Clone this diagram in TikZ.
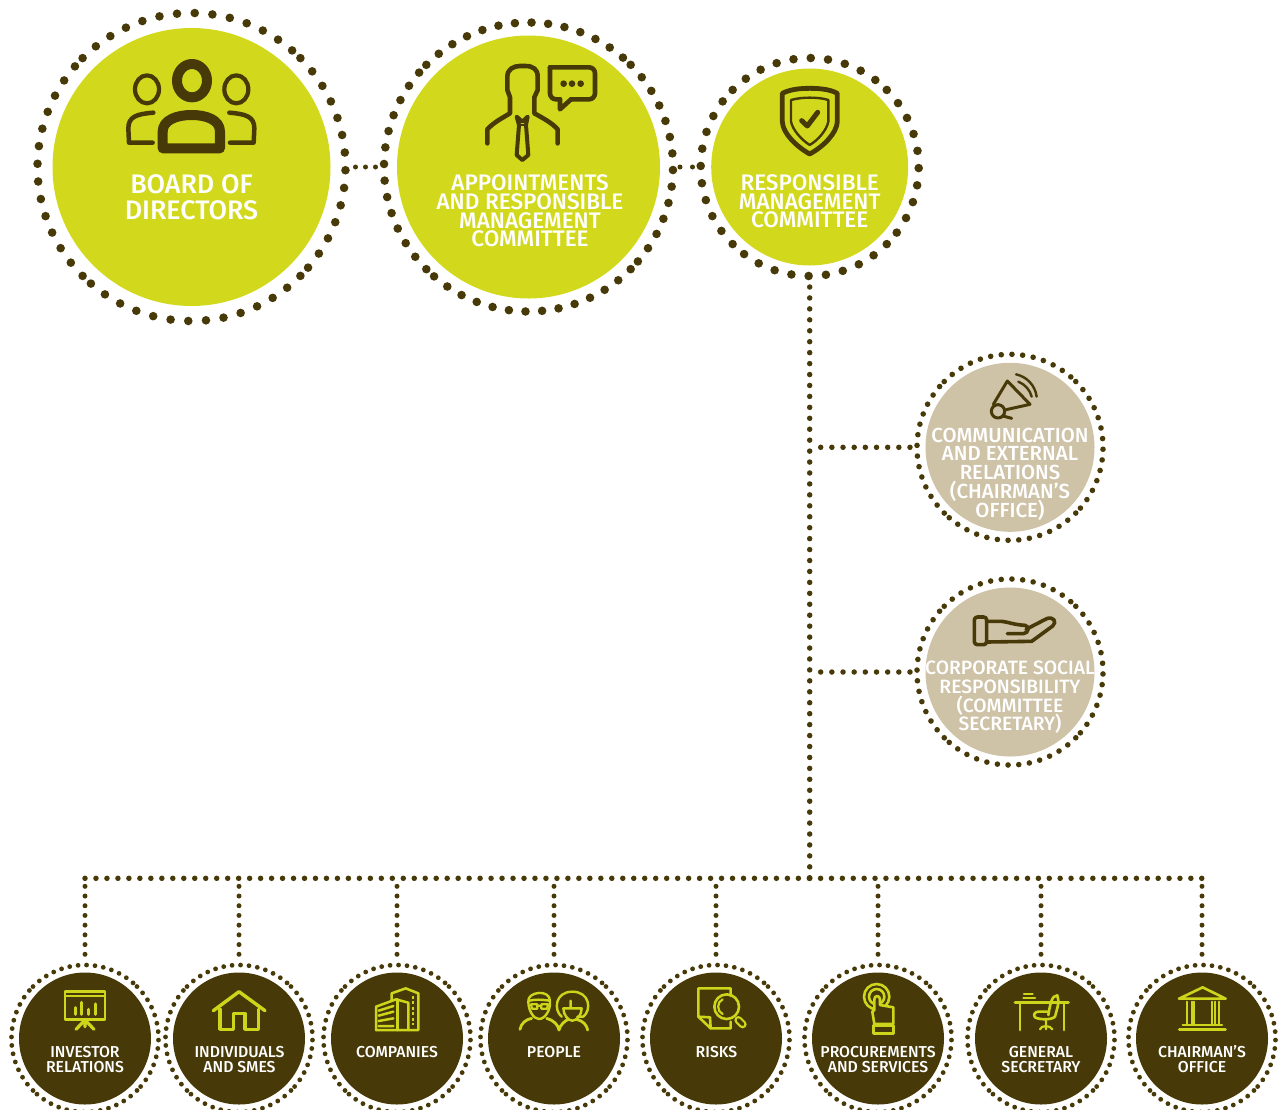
\documentclass[tikz,border=0pt]{standalone}
\usepackage{fontspec}
\setmainfont{Fira Sans Medium}
\definecolor{limeC}{HTML}{D2D91C}
\definecolor{iconC}{HTML}{CDD61B}
\definecolor{brownC}{HTML}{473A08}
\definecolor{beigeC}{HTML}{CEC2A7}
\tikzset{
  disc/.style={circle,inner sep=0pt,outer sep=0pt,fill=#1},
  bigtext/.style={text=white,align=center,inner sep=0pt},
  ringdot/.style={fill=brownC},
  conn/.style={draw=brownC,line width=#1,line cap=round},
  zoomed/.style 2 args={shift={(#1,#2)},x=0.33333pt,y=-0.33333pt},
  ink/.style={draw=brownC,line width=#1,line cap=round,line join=round},
  lim/.style={draw=iconC,line width=#1,line cap=round,line join=round}
}
\newcommand\dotring[4]{\foreach \qq in {0,1,2,3}{\foreach \ii in {0,...,13}{\fill[ringdot] ({#1+#3*cos(49.2+\qq*90+\ii*6.6)},{#2-#3*sin(49.2+\qq*90+\ii*6.6)}) circle[radius=#4];}}}
\newcommand\dotringten[4]{\foreach \qq in {0,1,2,3}{\foreach \ii in {0,...,9}{\fill[ringdot] ({#1+#3*cos(53+\qq*90+\ii*9.11)},{#2-#3*sin(53+\qq*90+\ii*9.11)}) circle[radius=#4];}}}
\newcommand\szA{\lineskiplimit=-100pt\fontsize{26.8}{26.5}\selectfont}
\newcommand\szB{\lineskiplimit=-100pt\fontsize{22.5}{18.7}\selectfont}
\newcommand\szC{\lineskiplimit=-100pt\fontsize{20.4}{18.7}\selectfont}
\newcommand\szE{\lineskiplimit=-100pt\fontsize{19.3}{18.7}\selectfont}
\newcommand\szD{\lineskiplimit=-100pt\fontsize{15.8}{15}\selectfont}
\begin{document}
\begin{tikzpicture}[x=1pt,y=-1pt]
\useasboundingbox (0,0) rectangle (1282,1109);
% discs
\node[disc=limeC,minimum size=278pt] (board) at (191.5,167) {};
\node[disc=limeC,minimum size=263pt] (appt) at (528.5,167) {};
\node[disc=limeC,minimum size=197pt] (resp) at (809.7,167) {};
\node[disc=beigeC,minimum size=169pt] (comm) at (1010,447.3) {};
\node[disc=beigeC,minimum size=169pt] (csr) at (1010,672) {};
\foreach \nm/\cx in {inv/85,ind/239,com/397,peo/554,ris/716,pro/878,gen/1041,cha/1202}{
  \node[disc=brownC,minimum size=132pt] (\nm) at (\cx,1038.5) {};
}
% rings
\dotring{191.5}{167}{154}{4.3}
\dotring{528.5}{167}{144.5}{4.3}
\dotringten{809.7}{167}{109}{4.3}
\dotring{1010}{447.3}{93}{2.8}
\dotring{1010}{672}{93}{2.8}
\foreach \cx in {85,239,397,554,716,878,1041,1202}{\dotring{\cx}{1038.5}{73.5}{2.4}}
% connector junctions
\coordinate (busM) at (809.7,878.3);
\coordinate (busL) at (85,878.3);
\coordinate (busR) at (1202,878.3);
\coordinate (tapA) at (809.7,447.3);
\coordinate (tapB) at (809.7,672);
\foreach \nm/\cx in {inv/85,ind/239,com/397,peo/554,ris/716,pro/878,gen/1041,cha/1202}{
  \coordinate (bus\nm) at (\cx,878.3);
  \draw[conn=5pt,dash pattern=on 0pt off 9.71pt,shorten <=8pt,shorten >=17pt] (bus\nm) -- (\nm);
}
\draw[conn=5pt,dash pattern=on 0pt off 10pt,shorten <=25pt,shorten >=21.5pt] (board) -- (appt);
\draw[conn=5pt,dash pattern=on 0pt off 12.5pt,shorten <=20pt,shorten >=18pt] (appt) -- (resp);
\draw[conn=5.5pt,dash pattern=on 0pt off 10.94pt,shorten <=21.5pt] (resp) -- (busM);
\draw[conn=5.5pt,dash pattern=on 0pt off 10.975pt] (busL) -- (busM);
\draw[conn=5.5pt,dash pattern=on 0pt off 10.89pt] (busM) -- (busR);
\draw[conn=5.5pt,dash pattern=on 0pt off 11.16pt,shorten <=11pt,shorten >=15pt] (tapA) -- (comm);
\draw[conn=5.5pt,dash pattern=on 0pt off 11.16pt,shorten <=11pt,shorten >=15pt] (tapB) -- (csr);
% labels
\node[bigtext,font=\szA] (boardT) at (191.5,197) {BOARD OF\\DIRECTORS};
\node[bigtext,font=\szB] (apptT) at (530,211) {APPOINTMENTS\\AND RESPONSIBLE\\MANAGEMENT\\COMMITTEE};
\node[bigtext,font=\szB] (respT) at (809.7,201.5) {RESPONSIBLE\\MANAGEMENT\\COMMITTEE};
\node[bigtext,font=\szC] (commT) at (1010,474) {COMMUNICATION\\AND EXTERNAL\\RELATIONS\\(CHAIRMAN’S\\OFFICE)};
\node[bigtext,font=\szE] (csrT) at (1010,697.5) {CORPORATE SOCIAL\\RESPONSIBILITY\\(COMMITTEE\\SECRETARY)};
\node[bigtext,font=\szD] (invT) at (85,1059.5) {INVESTOR\\RELATIONS};
\node[bigtext,font=\szD] (indT) at (239.5,1059.5) {INDIVIDUALS\\AND SMES};
\node[bigtext,font=\szD] (comT) at (397,1052) {COMPANIES};
\node[bigtext,font=\szD] (peoT) at (554,1052) {PEOPLE};
\node[bigtext,font=\szD] (risT) at (716.5,1052) {RISKS};
\node[bigtext,font=\szD] (proT) at (878,1059.5) {PROCUREMENTS\\AND SERVICES};
\node[bigtext,font=\szD] (genT) at (1041,1059.5) {GENERAL\\SECRETARY};
\node[bigtext,font=\szD] (chaT) at (1202,1059.5) {CHAIRMAN’S\\OFFICE};
% board icon
\begin{scope}[zoomed={30}{0}]
  \draw[ink=10pt] (486,242) ellipse[x radius=45,y radius=50];
  \draw[ink=4.2pt] (351,268) ellipse[x radius=36,y radius=42];
  \draw[ink=4.2pt] (619,268) ellipse[x radius=36,y radius=42];
  \draw[ink=10pt] (398,445) -- (398,395) .. controls (398,360) and (440,345) .. (485,345) .. controls (530,345) and (570,360) .. (570,395) -- (570,445) -- cycle;
  \draw[ink=4.5pt] (370,338) .. controls (320,342) and (295,350) .. (295,385) -- (297,428) -- (368,428);
  \draw[ink=4.5pt] (598,338) .. controls (648,342) and (673,350) .. (673,385) -- (671,428) -- (600,428);
\end{scope}
% appointments icon
\begin{scope}[zoomed={370}{10}]
  \draw[ink=4.6pt] (352,400) -- (352,358) .. controls (370,338) and (395,325) .. (420,310) -- (420,262) -- (412,240) -- (412,200) .. controls (412,178) and (430,168) .. (450,168) -- (466,168) .. controls (490,168) and (503,178) .. (503,200) -- (503,240) -- (493,262) -- (493,310) .. controls (520,325) and (545,338) .. (563,358) -- (563,400);
  \draw[ink=4pt] (440,320) -- (457,335) -- (473,320) -- (468,345) -- (475,435) -- (457,450) -- (440,435) -- (447,345) -- cycle;
  \draw[ink=2pt] (447,345) -- (468,345);
  \draw[ink=4.6pt,rounded corners=6pt] (540,172) -- (675,172) -- (675,268) -- (603,268);
  \draw[ink=4.6pt,rounded corners=6pt] (540,172) -- (540,268) -- (570,268);
  \draw[ink=4.6pt] (603,268) -- (570,298) -- (570,268);
  \fill[brownC] (581,221) circle[radius=10] (606,221) circle[radius=10] (632,221) circle[radius=10];
\end{scope}
% shield icon
\begin{scope}[zoomed={690}{50}]
  \draw[ink=4.8pt] (277,130) .. controls (300,118) and (330,115) .. (359,115) .. controls (390,115) and (420,118) .. (442,130) -- (442,215) .. controls (440,250) and (400,290) .. (359,312) .. controls (320,290) and (278,250) .. (277,215) -- cycle;
  \draw[ink=2.4pt] (303,150) .. controls (320,145) and (340,143) .. (359,143) .. controls (380,143) and (400,145) .. (415,150) -- (415,215) .. controls (410,240) and (385,270) .. (359,285) .. controls (335,270) and (308,240) .. (303,215) -- cycle;
  \draw[ink=5pt] (335,212) -- (352,228) -- (383,187);
\end{scope}
% megaphone icon
\begin{scope}[zoomed={910}{345}]
  \draw[ink=3pt] (250,178) -- (292,108) -- (360,178) -- (288,194);
  \draw[ink=3pt] (264,199) circle[radius=20];
  \draw[ink=3pt] (279,213) -- (305,220);
  \draw[ink=2.4pt] (325,110) .. controls (345,118) and (360,135) .. (365,155);
  \draw[ink=2.4pt] (318,88) .. controls (350,95) and (375,120) .. (380,155);
\end{scope}
% hand icon
\begin{scope}[zoomed={910}{572}]
  \draw[ink=3.6pt,rounded corners=3pt] (193,135) rectangle (230,218);
  \draw[ink=3.6pt] (230,148) -- (275,148) .. controls (295,150) and (310,158) .. (345,160) .. controls (358,162) and (358,183) .. (340,185) -- (292,185);
  \draw[ink=3.6pt] (348,172) -- (410,140) .. controls (430,132) and (442,150) .. (428,162) -- (365,208) -- (230,210);
\end{scope}
% investor icon
\begin{scope}[zoomed={0}{960}]
  \draw[lim=2.8pt] (195,95) rectangle (315,178);
  \draw[lim=2.2pt] (195,108) -- (315,108);
  \draw[lim=3.2pt] (226,143) -- (226,163) (244,127) -- (244,163) (265,148) -- (265,163) (286,132) -- (286,163);
  \draw[lim=3.2pt] (228,208) -- (255,180) -- (282,208) (255,180) -- (255,200);
\end{scope}
% house icon
\begin{scope}[zoomed={0}{960}]
  \draw[lim=3.4pt] (640,152) -- (717,95) -- (795,152);
  \draw[lim=3.4pt] (660,148) -- (660,208) -- (700,208) -- (700,160) -- (735,160) -- (735,208) -- (775,208) -- (775,148);
\end{scope}
% companies icon
\begin{scope}[zoomed={320}{960}]
  \draw[lim=2.5pt] (168,210) -- (168,140) -- (228,118) -- (265,128) -- (265,210);
  \draw[lim=2.5pt] (215,122) -- (215,100) -- (257,85) -- (295,100) -- (295,210) -- (168,210);
  \draw[lim=2.5pt] (232,118) -- (232,210);
  \draw[lim=2.5pt] (176,152) -- (220,138) (176,167) -- (220,155) (176,183) -- (220,175) (176,198) -- (220,198);
  \draw[draw=iconC,line width=2pt,dash pattern=on 3pt off 2.4pt] (278,108) -- (278,195);
\end{scope}
% people icon
\begin{scope}[zoomed={320}{960}]
  \draw[lim=2.4pt] (625,125) .. controls (620,95) and (692,85) .. (690,125) .. controls (692,150) and (675,177) .. (657,177) .. controls (640,177) and (625,150) .. (625,125);
  \draw[lim=2.4pt] (628,122) .. controls (645,118) and (665,118) .. (688,122);
  \draw[lim=2.2pt] (633,133) -- (652,133) -- (652,146) -- (636,146) -- cycle (664,133) -- (684,133) -- (681,146) -- (664,146) -- cycle (652,137) -- (664,137);
  \draw[lim=2.4pt] (725,170) .. controls (700,150) and (705,95) .. (757,95) .. controls (810,95) and (815,150) .. (790,170) -- (772,170);
  \draw[lim=2.4pt] (730,145) -- (785,145) .. controls (785,165) and (770,182) .. (757,182) .. controls (745,182) and (730,165) .. (730,145) (752,122) -- (752,143);
  \draw[lim=2.8pt] (600,208) .. controls (603,190) and (618,178) .. (635,175);
  \draw[lim=2.8pt] (680,175) .. controls (700,180) and (715,195) .. (717,210) .. controls (720,195) and (735,182) .. (745,178);
  \draw[lim=2.8pt] (770,178) .. controls (790,183) and (800,195) .. (803,210);
\end{scope}
% risks icon
\begin{scope}[zoomed={640}{960}]
  \draw[lim=2.6pt] (272,108) -- (272,85) -- (175,85) -- (175,170) -- (212,205) -- (272,205) -- (272,185);
  \draw[lim=2.6pt] (175,170) -- (210,172) -- (212,205);
  \draw[lim=2.6pt] (260,140) circle[radius=37];
  \draw[lim=2.2pt] (248,118) .. controls (230,125) and (230,155) .. (248,162);
  \draw[lim=8pt] (295,180) -- (308,193);
  \draw[draw=brownC,line width=3.6pt,line cap=round] (295,180) -- (308,193);
\end{scope}
% procurements icon
\begin{scope}[zoomed={640}{960}]
  \draw[lim=2.6pt] (710,110) circle[radius=38];
  \draw[lim=2.6pt] (710,110) circle[radius=23];
  \draw[lim=2.6pt,fill=brownC] (703,192) -- (697,155) -- (703,150) -- (703,118) .. controls (703,105) and (720,105) .. (720,118) -- (720,135) -- (760,142) -- (760,192) -- cycle;
  \draw[lim=2.6pt] (700,197) rectangle (760,220);
\end{scope}
% general secretary icon
\begin{scope}[zoomed={960}{960}]
  \draw[lim=3pt] (165,128) -- (325,128);
  \draw[lim=2.8pt] (180,128) -- (180,210) (312,128) -- (312,210);
  \draw[lim=2.2pt] (192,102) -- (218,102) (190,115) -- (225,115);
  \draw[lim=2.6pt] (265,165) .. controls (270,135) and (275,105) .. (292,106) .. controls (300,125) and (290,150) .. (285,170) .. controls (275,180) and (240,180) .. (225,172) .. controls (218,165) and (225,155) .. (235,155) -- (262,155);
  \draw[lim=2.2pt] (258,180) -- (258,208) (240,208) .. controls (242,195) and (272,195) .. (277,208);
\end{scope}
% chairman office icon
\begin{scope}[zoomed={960}{960}]
  \draw[lim=2.6pt] (657,116) -- (728,82) -- (797,116) -- cycle;
  \draw[lim=2.2pt] (680,125) -- (680,195) (695,125) -- (695,195) (702,125) -- (702,195) (755,125) -- (755,195) (765,125) -- (765,195) (778,125) -- (778,195);
  \draw[lim=2.2pt] (668,196) -- (786,196);
  \draw[lim=3pt] (658,208) -- (796,208);
\end{scope}
\end{tikzpicture}
\end{document}
